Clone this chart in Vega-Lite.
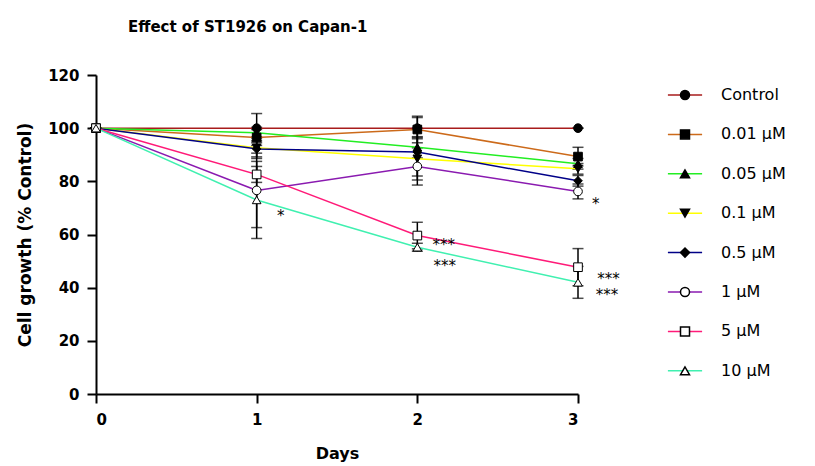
{
  "$schema": "https://vega.github.io/schema/vega-lite/v6.json",
  "width": 482,
  "height": 319,
  "autosize": {"type": "none"},
  "padding": {"left": 96, "top": 75, "right": 237, "bottom": 72},
  "background": "white",
  "title": {"text": "Effect of ST1926 on Capan-1", "anchor": "start", "frame": "group", "dx": 32, "offset": 33, "font": "DejaVu Sans", "fontSize": 15, "fontWeight": "bold", "color": "black"},
  "config": {
    "view": {"stroke": null},
    "axis": {"grid": false, "domainColor": "black", "domainWidth": 2, "tickColor": "black", "tickWidth": 2, "tickSize": 9, "labelFont": "DejaVu Sans", "labelFontSize": 15, "labelFontWeight": "bold", "labelColor": "black", "titleFont": "DejaVu Sans", "titleFontSize": 16, "titleFontWeight": "bold", "titleColor": "black"}
  },
  "datasets": {
    "main": [
      {"series": "Control", "day": 0, "value": 100, "sd": 0},
      {"series": "Control", "day": 1, "value": 100, "sd": 5.5},
      {"series": "Control", "day": 2, "value": 100, "sd": 4},
      {"series": "Control", "day": 3, "value": 100, "sd": 0},
      {"series": "0.01 µM", "day": 0, "value": 100, "sd": 0},
      {"series": "0.01 µM", "day": 1, "value": 96.5, "sd": 3},
      {"series": "0.01 µM", "day": 2, "value": 99.5, "sd": 5},
      {"series": "0.01 µM", "day": 3, "value": 89.3, "sd": 3.5},
      {"series": "0.05 µM", "day": 0, "value": 100, "sd": 0},
      {"series": "0.05 µM", "day": 1, "value": 98.3, "sd": 2},
      {"series": "0.05 µM", "day": 2, "value": 92.8, "sd": 4},
      {"series": "0.05 µM", "day": 3, "value": 86.6, "sd": 2},
      {"series": "0.1 µM", "day": 0, "value": 100, "sd": 0},
      {"series": "0.1 µM", "day": 1, "value": 92.6, "sd": 4},
      {"series": "0.1 µM", "day": 2, "value": 88.5, "sd": 8},
      {"series": "0.1 µM", "day": 3, "value": 84.7, "sd": 2},
      {"series": "0.5 µM", "day": 0, "value": 100, "sd": 0},
      {"series": "0.5 µM", "day": 1, "value": 92.2, "sd": 3},
      {"series": "0.5 µM", "day": 2, "value": 91, "sd": 9},
      {"series": "0.5 µM", "day": 3, "value": 80.2, "sd": 2},
      {"series": "1 µM", "day": 0, "value": 100, "sd": 0},
      {"series": "1 µM", "day": 1, "value": 76.6, "sd": 14},
      {"series": "1 µM", "day": 2, "value": 85.6, "sd": 7},
      {"series": "1 µM", "day": 3, "value": 76.2, "sd": 2.8},
      {"series": "5 µM", "day": 0, "value": 100, "sd": 0},
      {"series": "5 µM", "day": 1, "value": 82.6, "sd": 3},
      {"series": "5 µM", "day": 2, "value": 59.6, "sd": 5},
      {"series": "5 µM", "day": 3, "value": 47.7, "sd": 7},
      {"series": "10 µM", "day": 0, "value": 100, "sd": 0},
      {"series": "10 µM", "day": 1, "value": 73, "sd": 14.5},
      {"series": "10 µM", "day": 2, "value": 55.2, "sd": 1.5},
      {"series": "10 µM", "day": 3, "value": 42, "sd": 6}
    ],
    "notes": [
      {"day": 1.15, "value": 68.3, "label": "*"},
      {"day": 3.11, "value": 72.8, "label": "*"},
      {"day": 2.165, "value": 57.7, "label": "***"},
      {"day": 2.17, "value": 49.8, "label": "***"},
      {"day": 3.19, "value": 44.9, "label": "***"},
      {"day": 3.18, "value": 38.6, "label": "***"}
    ]
  },
  "layer": [
    {
      "data": {"name": "main"},
      "mark": {"type": "errorbar", "ticks": {"size": 11, "thickness": 1.5, "color": "black"}, "rule": {"strokeWidth": 1.5, "color": "black"}, "color": "black"},
      "encoding": {
        "x": {"field": "day", "type": "quantitative", "scale": {"domain": [0, 3], "nice": false}, "axis": {"values": [0, 1, 2, 3], "format": "d", "title": "Days", "labelPadding": 9, "titlePadding": 18}},
        "y": {"field": "value", "type": "quantitative", "scale": {"domain": [0, 120], "nice": false}, "axis": {"values": [0, 20, 40, 60, 80, 100, 120], "title": "Cell growth (% Control)", "labelPadding": 8, "titlePadding": 13, "titleFontSize": 17}},
        "yError": {"field": "sd"}
      }
    },
    {
      "data": {"name": "main"},
      "mark": {"type": "line", "strokeWidth": 1.5},
      "encoding": {
        "x": {"field": "day", "type": "quantitative"},
        "y": {"field": "value", "type": "quantitative"},
        "color": {
          "field": "series", "type": "nominal",
          "scale": {"domain": ["Control", "0.01 µM", "0.05 µM", "0.1 µM", "0.5 µM", "1 µM", "5 µM", "10 µM"], "range": ["#A81C1C", "#CC6A1A", "#22EE22", "#FFFF00", "#000088", "#8A1AB0", "#FF1A78", "#40F0B0"]},
          "legend": {"orient": "none", "legendX": 581, "legendY": 12, "title": null, "padding": 0, "symbolType": "M-3.8,0H3.8", "symbolSize": 81, "symbolStrokeWidth": 1.5, "symbolFillColor": "transparent", "labelOpacity": 0, "labelFont": "DejaVu Sans", "labelFontSize": 16, "labelOffset": 28, "rowPadding": 23.4}
        }
      }
    },
    {
      "data": {"name": "main"},
      "mark": {"type": "point", "filled": true, "stroke": "black", "strokeWidth": 1, "size": 75, "opacity": 1},
      "encoding": {
        "x": {"field": "day", "type": "quantitative"},
        "y": {"field": "value", "type": "quantitative"},
        "shape": {
          "field": "series", "type": "nominal", "sort": null,
          "scale": {"range": ["circle", "square", "triangle-up", "triangle-down", "diamond", "circle", "square", "triangle-up"]},
          "legend": {"orient": "none", "legendX": 581, "legendY": 12, "title": null, "padding": 0, "symbolSize": 81, "labelFont": "DejaVu Sans", "labelFontSize": 16, "labelColor": "black", "labelOffset": 28, "rowPadding": 23.4, "encode": {"symbols": {"update": {"stroke": {"value": "black"}, "strokeWidth": {"value": 1}}}}}
        },
        "fill": {
          "field": "series", "type": "nominal", "sort": null,
          "scale": {"range": ["black", "black", "black", "black", "black", "white", "white", "white"]},
          "legend": {"orient": "none", "legendX": 581, "legendY": 12, "title": null, "padding": 0, "symbolSize": 81, "labelFont": "DejaVu Sans", "labelFontSize": 16, "labelColor": "black", "labelOffset": 28, "rowPadding": 23.4, "encode": {"symbols": {"update": {"stroke": {"value": "black"}, "strokeWidth": {"value": 1}}}}}
        }
      }
    },
    {
      "data": {"name": "notes"},
      "mark": {"type": "text", "font": "DejaVu Sans", "fontSize": 15, "color": "black", "align": "center", "baseline": "middle", "dy": 4},
      "encoding": {
        "x": {"field": "day", "type": "quantitative"},
        "y": {"field": "value", "type": "quantitative"},
        "text": {"field": "label"}
      }
    }
  ]
}
